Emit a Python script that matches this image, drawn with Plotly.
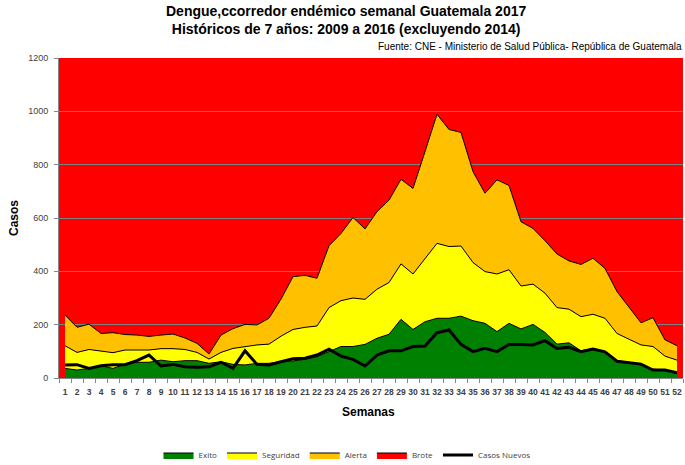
import plotly.graph_objects as go

semanas = list(range(1, 53))

exito = [36, 30, 36, 46, 36, 52, 59, 59, 67, 61, 65, 65, 55, 61, 51, 49, 55, 55, 61, 64,
         70, 80, 99, 118, 118, 126, 149, 164, 220, 182, 211, 224, 224, 232, 215, 205, 174, 205, 184, 201,
         171, 127, 132, 102, 111, 99, 65, 59, 49, 33, 30, 21]
seguridad = [121, 96, 107, 102, 95, 105, 106, 105, 110, 110, 107, 96, 71, 96, 111, 118, 124, 127, 157, 182,
             190, 195, 264, 290, 300, 295, 333, 358, 428, 390, 449, 505, 493, 495, 433, 399, 390, 406, 345, 352,
             318, 264, 258, 230, 239, 224, 167, 145, 124, 118, 82, 67]
alerta = [236, 190, 202, 167, 170, 163, 161, 156, 161, 165, 150, 130, 90, 161, 185, 201, 199, 224, 296, 380,
          385, 374, 496, 542, 602, 559, 624, 667, 745, 711, 849, 989, 932, 921, 774, 693, 743, 722, 586, 561,
          515, 465, 439, 426, 449, 411, 324, 265, 207, 226, 143, 121]
casos_nuevos = [49, 50, 36, 46, 50, 50, 65, 86, 45, 51, 42, 40, 42, 59, 36, 102, 51, 49, 61, 72,
                74, 86, 108, 82, 70, 45, 86, 102, 102, 118, 120, 170, 180, 126, 99, 111, 99, 126, 126, 124,
                140, 111, 115, 99, 109, 98, 63, 57, 52, 30, 30, 20]

titulo = "Dengue,ccorredor endémico semanal Guatemala 2017<br>Históricos de 7 años: 2009 a 2016 (excluyendo 2014)"
fuente = "Fuente: CNE - Ministerio de Salud Pública- República de Guatemala"

W, H = 685, 465
L, R, T, B = 59, 2, 58, 87
PW, PH = W - L - R, H - T - B


def px(xp):
    return (xp - L) / PW


def py(yp):
    return (H - B - yp) / PH


fig = go.Figure()
fig.add_trace(go.Scatter(x=semanas, y=exito, name="Exito", mode="lines",
                         line=dict(color="black", width=1), fill="tozeroy", fillcolor="#008000"))
fig.add_trace(go.Scatter(x=semanas, y=seguridad, name="Seguridad", mode="lines",
                         line=dict(color="black", width=1), fill="tonexty", fillcolor="#FFFF00"))
fig.add_trace(go.Scatter(x=semanas, y=alerta, name="Alerta", mode="lines",
                         line=dict(color="black", width=1), fill="tonexty", fillcolor="#FFC000"))
fig.add_trace(go.Scatter(x=[None], y=[None], name="Brote", mode="lines",
                         line=dict(color="black", width=1), fill="toself", fillcolor="#FF0000"))
fig.add_trace(go.Scatter(x=semanas, y=casos_nuevos, name="Casos Nuevos", mode="lines",
                         line=dict(color="black", width=3)))

fig.update_layout(
    width=W, height=H,
    margin=dict(l=L, r=R, t=T, b=B, autoexpand=False),
    plot_bgcolor="#FF0000",
    paper_bgcolor="white",
    font=dict(family="Liberation Sans, Arial", color="#404040"),
    showlegend=True,
    legend=dict(orientation="h", traceorder="normal",
                xref="container", yref="container",
                x=347 / W, xanchor="center", y=(H - 455) / H, yanchor="middle",
                font=dict(size=8, family="Open Sans", color="#404040"),
                itemwidth=30, tracegroupgap=0),
    annotations=[
        dict(text="<b>" + titulo + "</b>", xref="paper", yref="paper", x=px(346), y=py(20),
             xanchor="center", yanchor="middle", showarrow=False,
             font=dict(family="Liberation Sans", size=14, color="black")),
        dict(text=fuente, xref="paper", yref="paper", x=px(684), y=py(47), xanchor="right", yanchor="middle",
             showarrow=False, font=dict(family="Liberation Sans", size=10, color="black")),
        dict(text="<b>Casos</b>", xref="paper", yref="paper", x=px(14), y=py(218), textangle=-90,
             xanchor="center", yanchor="middle", showarrow=False,
             font=dict(family="Liberation Sans", size=12, color="black")),
        dict(text="<b>Semanas</b>", xref="paper", yref="paper", x=px(368), y=py(412),
             xanchor="center", yanchor="middle", showarrow=False,
             font=dict(family="Liberation Sans", size=12, color="black")),
    ],
)
fig.update_xaxes(range=[0.5, 52.5], tickmode="array", tickvals=semanas,
                 ticktext=["<b>%d</b>" % s for s in semanas], ticks="", showgrid=False,
                 showline=True, linecolor="#868686", linewidth=1, automargin=False,
                 ticklabelstandoff=6, tickangle=0,
                 tickfont=dict(size=8.5, family="Liberation Sans", color="#404040"),
                 minor=dict(ticks="outside", tick0=0.5, dtick=1, ticklen=4, tickcolor="#868686"))
fig.update_yaxes(range=[0, 1200], dtick=200, showgrid=True, gridcolor="#808080", gridwidth=1,
                 showline=True, linecolor="#868686", ticks="outside", ticklen=4, tickcolor="#868686",
                 tickfont=dict(size=9, color="#404040"), zeroline=False, automargin=False,
                 ticklabelstandoff=4)

fig.write_html("out.html", config={"displayModeBar": False},
               post_script="document.body.style.margin='0';")
